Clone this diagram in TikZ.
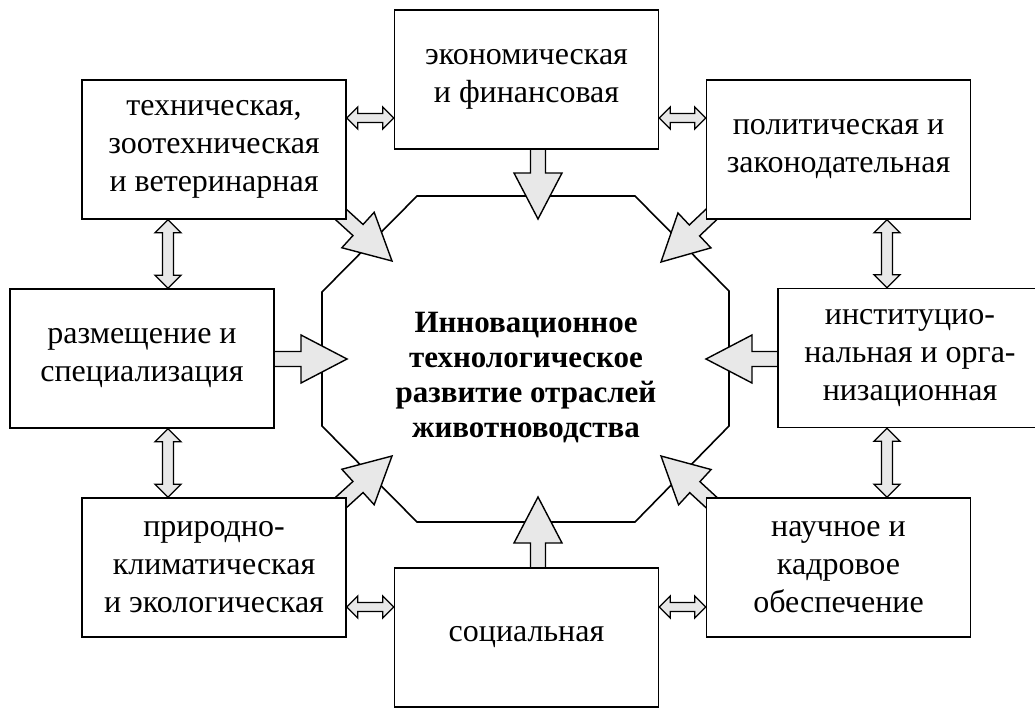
\documentclass[tikz,border=0pt]{standalone}
\usepackage{fontspec}
\setmainfont{Liberation Serif}
\usetikzlibrary{calc, backgrounds}

% wide block arrow: start, tip
\newcommand{\blockarrow}[2]{%
  \coordinate (ba-s) at (#1);
  \coordinate (ba-t) at (#2);
  \coordinate (ba-b) at ($(ba-t)!46pt!(ba-s)$);
  \filldraw[bigarrow] ($(ba-s)!7.5pt!90:(ba-t)$) -- ($(ba-b)!7.5pt!90:(ba-t)$) -- ($(ba-b)!24pt!90:(ba-t)$) -- (ba-t)
    -- ($(ba-b)!24pt!-90:(ba-t)$) -- ($(ba-b)!7.5pt!-90:(ba-t)$) -- ($(ba-s)!7.5pt!-90:(ba-t)$) -- cycle;
}
% two-headed link: end a, end b, shaft half, head half
\newcommand{\linkarrow}[4]{%
  \coordinate (la-a) at (#1);
  \coordinate (la-b) at (#2);
  \coordinate (la-p) at ($(la-a)!#4!(la-b)$);
  \coordinate (la-q) at ($(la-b)!#4!(la-a)$);
  \filldraw[smallarrow] (la-a) -- ($(la-p)!#4!90:(la-b)$) -- ($(la-p)!#3!90:(la-b)$) -- ($(la-q)!#3!-90:(la-a)$)
    -- ($(la-q)!#4!-90:(la-a)$) -- (la-b) -- ($(la-q)!#4!90:(la-a)$) -- ($(la-q)!#3!90:(la-a)$)
    -- ($(la-p)!#3!-90:(la-b)$) -- ($(la-p)!#4!-90:(la-b)$) -- cycle;
}

\begin{document}
\begin{tikzpicture}[
        x=1pt, y=-1pt,
        factor/.style={rectangle, draw, fill=white, line width=1.6pt, minimum width=264pt, minimum height=139pt, align=center, inner sep=0pt, font=\fontsize{32}{38}\selectfont},
        core/.style={align=center, font=\fontsize{31}{35}\selectfont\bfseries},
        hull/.style={draw, line width=1.6pt, line join=miter},
        bigarrow/.style={draw, line width=1.4pt, fill=black!9, line join=miter},
        smallarrow/.style={draw, line width=1.3pt, fill=black!9, line join=miter}
    ]
    \useasboundingbox (0,0) rectangle (1035,709);
    \clip (0,0) rectangle (1035,709);

    \node[factor] (econ) at (526.5,79.5) {экономическая\\и финансовая};
    \node[factor] (tech) at (214,149.5) {техническая,\\зоотехническая\\и ветеринарная};
    \node[factor] (pol) at (838.5,149.5) {политическая и\\законодательная};
    \node[factor] (razm) at (142,358.5) {размещение и\\специализация};
    \node[factor] (inst) at (910,358) {институцио-\\нальная и орга-\\низационная};
    \node[factor] (prir) at (214,567.5) {природно-\\климатическая\\и экологическая};
    \node[factor] (soc) at (526.5,637.5) {социальная};
    \node[factor] (nauch) at (838.5,567.5) {научное и\\кадровое\\обеспечение};

    \node[core] (center) at (526,378) {Инновационное\\технологическое\\развитие отраслей\\животноводства};

    \coordinate (tip-econ) at (538,219);
    \coordinate (tip-soc) at (538,497);
    \coordinate (tip-razm) at (347,359);
    \coordinate (tip-inst) at (706,359);
    \coordinate (tip-tech) at (392,261);
    \coordinate (tip-pol) at (661,262);
    \coordinate (tip-prir) at (392,456);
    \coordinate (tip-nauch) at (661,456);

    \begin{pgfonlayer}{background}
        \draw[hull] (322,292) -- (417,196) -- (635,196) -- (729,291) -- (729,426) -- (635,522) -- (417,522) -- (322,426) -- cycle;
        \blockarrow{$(tip-econ |- econ.south)+(0,-6)$}{tip-econ}
        \blockarrow{$(tip-soc |- soc.north)+(0,6)$}{tip-soc}
        \blockarrow{$(tip-razm -| razm.east)+(-6,0)$}{tip-razm}
        \blockarrow{$(tip-inst -| inst.west)+(6,0)$}{tip-inst}
        \blockarrow{$(tech.south east)!-12pt!(tip-tech)$}{tip-tech}
        \blockarrow{$(pol.south west)!-12pt!(tip-pol)$}{tip-pol}
        \blockarrow{$(prir.north east)!-12pt!(tip-prir)$}{tip-prir}
        \blockarrow{$(nauch.north west)!-12pt!(tip-nauch)$}{tip-nauch}
    \end{pgfonlayer}

    \linkarrow{tech.east |- 0,118}{econ.west |- 0,118}{4.5pt}{11pt}
    \linkarrow{econ.east |- 0,118}{pol.west |- 0,118}{4.5pt}{11pt}
    \linkarrow{prir.east |- 0,607}{soc.west |- 0,607}{4.5pt}{11pt}
    \linkarrow{soc.east |- 0,607}{nauch.west |- 0,607}{4.5pt}{11pt}
    \linkarrow{tech.south -| 168,0}{razm.north -| 168,0}{5.5pt}{13pt}
    \linkarrow{razm.south -| 168,0}{prir.north -| 168,0}{5.5pt}{13pt}
    \linkarrow{pol.south -| 887,0}{inst.north -| 887,0}{5.5pt}{13pt}
    \linkarrow{inst.south -| 887,0}{nauch.north -| 887,0}{5.5pt}{13pt}
\end{tikzpicture}
\end{document}
